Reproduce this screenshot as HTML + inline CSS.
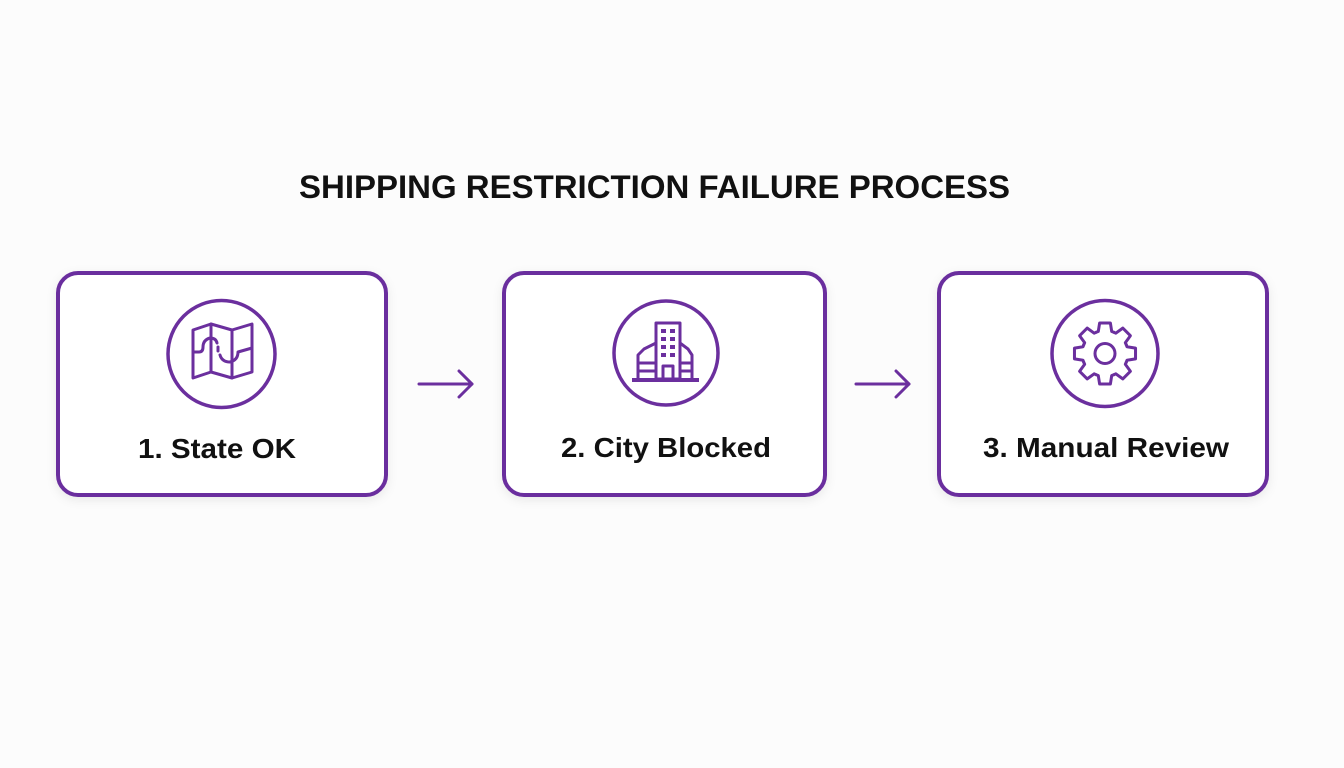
<!DOCTYPE html>
<html>
<head>
<meta charset="utf-8">
<style>
  html,body{margin:0;padding:0;background:#fcfcfc;}
  body{width:1344px;height:768px;overflow:hidden;}
  svg{display:block;}
</style>
</head>
<body>
<svg width="1344" height="768" viewBox="0 0 1344 768" xmlns="http://www.w3.org/2000/svg">
  <defs>
    <filter id="sh" x="-10%" y="-10%" width="120%" height="130%">
      <feDropShadow dx="0" dy="3" stdDeviation="5" flood-color="#000" flood-opacity="0.08"/>
    </filter>
  </defs>
  <rect width="1344" height="768" fill="#fcfcfc"/>

  <text x="299" y="198" font-family="Liberation Sans, Arial, sans-serif" font-weight="bold" font-size="32" fill="#111" textLength="711" lengthAdjust="spacingAndGlyphs">SHIPPING RESTRICTION FAILURE PROCESS</text>

  <!-- Boxes -->
  <g fill="#ffffff" stroke="#6b2f9e" stroke-width="4" filter="url(#sh)">
    <rect x="58" y="273" width="328" height="222" rx="20"/>
    <rect x="504" y="273" width="321" height="222" rx="20"/>
    <rect x="939" y="273" width="328" height="222" rx="20"/>
  </g>

  <!-- Circles -->
  <g fill="none" stroke="#6b2f9e" stroke-width="3.5">
    <circle cx="221.5" cy="354" r="53.5"/>
    <circle cx="666" cy="353" r="52"/>
    <circle cx="1105" cy="353.5" r="53"/>
  </g>

  <!-- Map icon -->
  <g fill="none" stroke="#6b2f9e" stroke-width="3" stroke-linejoin="round" stroke-linecap="round">
    <polygon points="193,330 211,324 232,330 252,324 252,372 232,378 211,372 193,378"/>
    <line x1="211" y1="324" x2="211" y2="372"/>
    <line x1="232" y1="330" x2="232" y2="378"/>
    <path d="M193,352 L199,352 Q203,352 203,347 Q203,340 210,338 Q216,338 217,343"/>
    <path d="M218,347 L218,351" />
    <path d="M220,355 Q222,362 230,362 Q238,360 238,352 L252,348"/>
  </g>

  <!-- Building icon -->
  <g fill="none" stroke="#6b2f9e" stroke-width="3" stroke-linejoin="round">
    <rect x="656" y="323" width="24" height="56"/>
    <path d="M656,343 L644,349 L638,355 L638,379"/>
    <path d="M680,343 L688,349 L692,355 L692,379"/>
    <line x1="638" y1="363" x2="656" y2="363"/>
    <line x1="638" y1="371" x2="656" y2="371"/>
    <line x1="680" y1="363" x2="692" y2="363"/>
    <line x1="680" y1="371" x2="692" y2="371"/>
    <rect x="663" y="366" width="10" height="13"/>
    <line x1="632" y1="380" x2="699" y2="380" stroke-width="4"/>
  </g>
  <g fill="#6b2f9e">
    <rect x="661" y="329" width="5" height="4"/><rect x="670" y="329" width="5" height="4"/>
    <rect x="661" y="337" width="5" height="4"/><rect x="670" y="337" width="5" height="4"/>
    <rect x="661" y="345" width="5" height="4"/><rect x="670" y="345" width="5" height="4"/>
    <rect x="661" y="353" width="5" height="4"/><rect x="670" y="353" width="5" height="4"/>
  </g>

  <!-- Gear icon -->
  <g transform="translate(1105,353.5)" fill="none" stroke="#6b2f9e" stroke-width="3" stroke-linejoin="round" stroke-linecap="round">
    <g id="gt"><polyline points="21.25,-8.80 21.99,-6.72 30.53,-5.38 30.53,5.38 21.99,6.72 21.25,8.80"/></g>
    <polyline transform="rotate(45)" points="21.25,-8.80 21.99,-6.72 30.53,-5.38 30.53,5.38 21.99,6.72 21.25,8.80"/>
    <polyline transform="rotate(90)" points="21.25,-8.80 21.99,-6.72 30.53,-5.38 30.53,5.38 21.99,6.72 21.25,8.80"/>
    <polyline transform="rotate(135)" points="21.25,-8.80 21.99,-6.72 30.53,-5.38 30.53,5.38 21.99,6.72 21.25,8.80"/>
    <polyline transform="rotate(180)" points="21.25,-8.80 21.99,-6.72 30.53,-5.38 30.53,5.38 21.99,6.72 21.25,8.80"/>
    <polyline transform="rotate(225)" points="21.25,-8.80 21.99,-6.72 30.53,-5.38 30.53,5.38 21.99,6.72 21.25,8.80"/>
    <polyline transform="rotate(270)" points="21.25,-8.80 21.99,-6.72 30.53,-5.38 30.53,5.38 21.99,6.72 21.25,8.80"/>
    <polyline transform="rotate(315)" points="21.25,-8.80 21.99,-6.72 30.53,-5.38 30.53,5.38 21.99,6.72 21.25,8.80"/>
    <circle cx="0" cy="0" r="10"/>
  </g>

  <!-- Arrows -->
  <g fill="none" stroke="#6b2f9e" stroke-width="3" stroke-linecap="round" stroke-linejoin="round">
    <line x1="419" y1="384" x2="472" y2="384"/>
    <polyline points="459,371 472,384 459,397"/>
    <line x1="856" y1="384" x2="909" y2="384"/>
    <polyline points="896,371 909,384 896,397"/>
  </g>

  <!-- Labels -->
  <g font-family="Liberation Sans, Arial, sans-serif" font-weight="bold" font-size="28" fill="#111">
    <text x="138" y="458" textLength="158" lengthAdjust="spacingAndGlyphs">1. State OK</text>
    <text x="561" y="457" textLength="210" lengthAdjust="spacingAndGlyphs">2. City Blocked</text>
    <text x="983" y="457" textLength="246" lengthAdjust="spacingAndGlyphs">3. Manual Review</text>
  </g>
</svg>
</body>
</html>
